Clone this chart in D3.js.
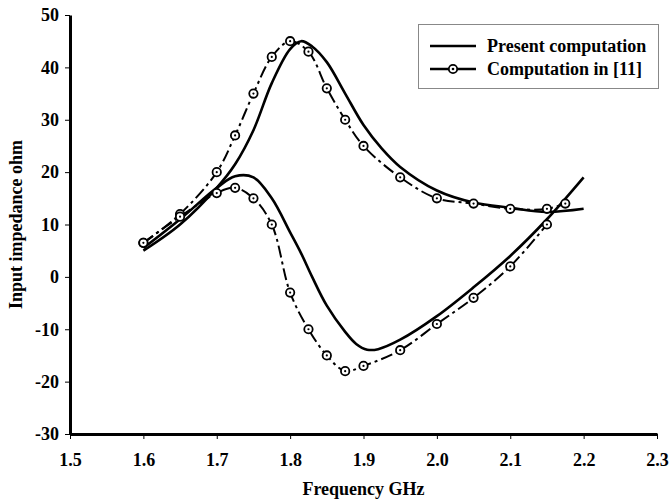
<!DOCTYPE html>
<html>
<head>
<meta charset="utf-8">
<script src="https://cdn.jsdelivr.net/npm/d3@7"></script>
<style>
  body { margin: 0; background: #fff; }
  text { font-family: "Liberation Serif", "Times New Roman", serif; font-weight: bold; fill: #000; }
</style>
</head>
<body>
<svg id="chart"></svg>
<script>
// Present computation (solid lines)
const presentFreqUpper = [1.6, 1.65, 1.7, 1.725, 1.75, 1.775, 1.8, 1.815, 1.83, 1.85, 1.875, 1.9, 1.925, 1.95, 2.0, 2.05, 2.1, 2.15, 2.2];
const presentUpper     = [5, 10, 17, 21.5, 28, 37, 43.5, 45, 44, 41, 35, 29, 24.5, 21, 16.5, 14.2, 13.2, 12.4, 13];
const presentFreqLower = [1.6, 1.65, 1.7, 1.725, 1.75, 1.775, 1.8, 1.815, 1.83, 1.85, 1.875, 1.89, 1.905, 1.92, 1.95, 2.0, 2.05, 2.1, 2.15, 2.2];
const presentLower     = [5.5, 11, 17, 19.2, 19, 15, 8.5, 4.5, 0, -5.5, -10.5, -12.8, -13.9, -13.8, -12, -7.5, -2, 4, 11, 19];

// Computation in [11] (dash-dot with circle markers)
const refFreqUpper = [1.6, 1.65, 1.7, 1.725, 1.75, 1.775, 1.8, 1.825, 1.85, 1.875, 1.9, 1.95, 2.0, 2.05, 2.1, 2.15, 2.175];
const refUpper     = [6.5, 12, 20, 27, 35, 42, 45, 43, 36, 30, 25, 19, 15, 14, 13, 13, 14];
const refFreqLower = [1.6, 1.65, 1.7, 1.725, 1.75, 1.775, 1.8, 1.825, 1.85, 1.875, 1.9, 1.95, 2.0, 2.05, 2.1, 2.15];
const refLower     = [6.5, 11.5, 16, 17, 15, 10, -3, -10, -15, -18, -17, -14, -9, -4, 2, 10];

const xTicks = [1.5, 1.6, 1.7, 1.8, 1.9, 2.0, 2.1, 2.2, 2.3];
const yTicks = [-30, -20, -10, 0, 10, 20, 30, 40, 50];

const width = 670, height = 499;
const margin = {top: 15, right: 13, bottom: 65, left: 70};

const svg = d3.select("#chart")
    .attr("width", width)
    .attr("height", height);

const x = d3.scaleLinear().domain([1.5, 2.3]).range([margin.left, width - margin.right]);
const y = d3.scaleLinear().domain([-30, 50]).range([height - margin.bottom, margin.top]);

// Axes
const xAxis = svg.append("g")
    .attr("transform", `translate(0,${height - margin.bottom})`)
    .call(d3.axisBottom(x).tickValues(xTicks).tickFormat(d3.format(".1f")).tickSize(5).tickSizeOuter(0));
const yAxis = svg.append("g")
    .attr("transform", `translate(${margin.left},0)`)
    .call(d3.axisLeft(y).tickValues(yTicks).tickFormat(d => String(d)).tickSize(5).tickSizeOuter(0));

[xAxis, yAxis].forEach(a => {
    a.select(".domain").attr("stroke", "#000").attr("stroke-width", 3);
    a.selectAll(".tick line").attr("stroke", "#000").attr("stroke-width", 1);
    a.selectAll(".tick text").style("font-size", "18px").style("font-family", "Liberation Serif").style("font-weight", "bold");
});
xAxis.selectAll(".tick text").attr("y", 19);
yAxis.selectAll(".tick text").attr("x", -11);

// Axis titles
svg.append("text")
    .attr("x", (margin.left + width - margin.right) / 2)
    .attr("y", 495)
    .attr("text-anchor", "middle")
    .style("font-size", "18px")
    .text("Frequency GHz");

svg.append("text")
    .attr("transform", `translate(22,${(margin.top + height - margin.bottom) / 2}) rotate(-90)`)
    .attr("text-anchor", "middle")
    .style("font-size", "18px")
    .text("Input impedance ohm");

// Lines
const curveLine = d3.line()
    .x(d => x(d[0]))
    .y(d => y(d[1]))
    .curve(d3.curveCatmullRom.alpha(0.5));

const dashDot = "12,4,3,4";

const refSeries = [
    d3.zip(refFreqUpper, refUpper),
    d3.zip(refFreqLower, refLower)
];
const presentSeries = [
    d3.zip(presentFreqUpper, presentUpper),
    d3.zip(presentFreqLower, presentLower)
];

refSeries.forEach(s => {
    svg.append("path")
        .datum(s)
        .attr("fill", "none")
        .attr("stroke", "#000")
        .attr("stroke-width", 2)
        .attr("stroke-dasharray", dashDot)
        .attr("d", curveLine);
});

presentSeries.forEach(s => {
    svg.append("path")
        .datum(s)
        .attr("fill", "none")
        .attr("stroke", "#000")
        .attr("stroke-width", 2.6)
        .attr("d", curveLine);
});

// Markers
refSeries.forEach(s => {
    const g = svg.append("g");
    g.selectAll("circle.m")
        .data(s)
        .enter()
        .append("circle")
        .attr("class", "m")
        .attr("cx", d => x(d[0]))
        .attr("cy", d => y(d[1]))
        .attr("r", 4.2)
        .attr("fill", "#fff")
        .attr("stroke", "#000")
        .attr("stroke-width", 1.8);
    g.selectAll("circle.c")
        .data(s)
        .enter()
        .append("circle")
        .attr("class", "c")
        .attr("cx", d => x(d[0]))
        .attr("cy", d => y(d[1]))
        .attr("r", 1.1)
        .attr("fill", "#000");
});

// Legend
const legend = svg.append("g");
legend.append("rect")
    .attr("x", 418.5).attr("y", 24.5)
    .attr("width", 240).attr("height", 64)
    .attr("fill", "#fff")
    .attr("stroke", "#888")
    .attr("stroke-width", 1);

legend.append("line")
    .attr("x1", 430).attr("x2", 476).attr("y1", 46).attr("y2", 46)
    .attr("stroke", "#000").attr("stroke-width", 2.6);
legend.append("text")
    .attr("x", 487).attr("y", 52)
    .style("font-size", "18px")
    .text("Present computation");

legend.append("line")
    .attr("x1", 430).attr("x2", 476).attr("y1", 69).attr("y2", 69)
    .attr("stroke", "#000").attr("stroke-width", 2.6);
legend.append("circle")
    .attr("cx", 453).attr("cy", 69).attr("r", 4.2)
    .attr("fill", "#fff").attr("stroke", "#000").attr("stroke-width", 1.8);
legend.append("circle")
    .attr("cx", 453).attr("cy", 69).attr("r", 1.3)
    .attr("fill", "#000");
legend.append("text")
    .attr("x", 487).attr("y", 75)
    .style("font-size", "18px")
    .text("Computation in [11]");
</script>
</body>
</html>
